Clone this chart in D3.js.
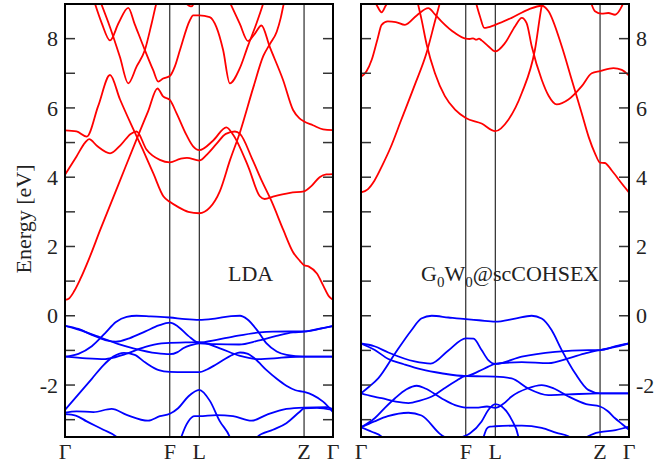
<!DOCTYPE html>
<html lang="en">
<head>
  <meta charset="UTF-8">
  <title>Band structure: LDA vs G0W0@scCOHSEX</title>
  <script src="https://d3js.org/d3.v7.min.js"></script>
  <style>
    body { margin: 0; background: #fff; }
    text { font-family: "Liberation Serif", "Times New Roman", serif; fill: #222; }
    .frame { fill: none; stroke: #000; stroke-width: 2px; }
    .kline { stroke: #000; stroke-width: 1px; }
    .tick { stroke: #333; stroke-width: 1.5px; }
    .band { fill: none; stroke-width: 1.8px; stroke-linejoin: round; }
  </style>
</head>
<body>
  <svg id="viz" width="668" height="463"></svg>

  <script>
    // high-symmetry path (normalised path length)
    const kLabels = ["Γ", "F", "L", "Z", "Γ"];
    const kTicks = [0, 0.391, 0.501, 0.892, 1];
    const majorTicks = [-2, 0, 2, 4, 6, 8];
    const minorTicks = [-3, -1, 1, 3, 5, 7];

    // each band: [k, E (eV)]
    const ldaConduction = [
      [[0,0.46],[0.015,0.5],[0.035,0.72],[0.056,1.04],[0.09,1.65],[0.131,2.47],[0.2,3.8],[0.27,5.15],[0.31,5.9],[0.345,6.56],[0.366,6.33],[0.391,6.23],[0.416,5.85],[0.453,5.22],[0.478,4.89],[0.501,4.78],[0.553,5.06],[0.602,5.44],[0.628,5.22],[0.684,4.3],[0.727,3.45],[0.745,3.37],[0.776,3.44],[0.84,3.55],[0.892,3.59],[0.92,3.75],[0.95,4.0],[0.975,4.08],[1,4.09]],
      [[0,4.07],[0.043,4.6],[0.075,5.0],[0.09,5.1],[0.12,4.9],[0.168,4.69],[0.21,4.95],[0.245,5.25],[0.267,5.32],[0.304,4.8],[0.354,4.5],[0.391,4.43],[0.43,4.53],[0.455,4.56],[0.501,4.48],[0.534,4.69],[0.565,4.96],[0.6,5.25],[0.634,5.32],[0.653,5.25],[0.7,4.5],[0.734,3.9],[0.771,3.3],[0.815,2.47],[0.85,1.85],[0.877,1.58],[0.892,1.46],[0.91,1.42],[0.94,1.22],[0.965,0.85],[0.985,0.56],[1,0.46]],
      [[0,5.35],[0.043,5.32],[0.081,5.17],[0.124,6.06],[0.168,6.95],[0.205,6.25],[0.248,5.5],[0.29,4.8],[0.33,4.1],[0.367,3.45],[0.391,3.29],[0.42,3.15],[0.46,3.0],[0.501,2.96],[0.54,3.12],[0.578,3.6],[0.616,4.5],[0.653,5.3],[0.703,6.6],[0.74,7.5],[0.765,7.85],[0.79,8.2],[0.805,8.6],[0.816,9.0],[0.825,9.3]],
      [[0.106,9.15],[0.137,8.45],[0.168,7.95],[0.2,8.45],[0.236,8.89],[0.26,8.42],[0.298,7.67],[0.329,7.09],[0.348,6.76],[0.366,6.85],[0.391,6.92],[0.41,7.2],[0.429,7.67],[0.466,8.53],[0.478,8.67],[0.501,8.67],[0.54,8.62],[0.565,8.33],[0.59,7.67],[0.615,6.71],[0.652,7.14],[0.683,7.8],[0.714,8.43],[0.739,9.0],[0.745,9.15]],
      [[0.128,9.15],[0.168,8.33],[0.205,7.47],[0.236,6.71],[0.267,7.19],[0.298,7.67],[0.323,8.43],[0.342,9.05],[0.348,9.2]],
      [[0.609,9.15],[0.652,8.43],[0.683,7.93],[0.708,8.14],[0.733,8.38],[0.764,7.76],[0.814,6.8],[0.851,5.94],[0.875,5.7],[0.892,5.61],[0.925,5.5],[0.963,5.38],[1,5.36]],
      [[0.445,9.15],[0.457,8.98],[0.47,8.93],[0.48,9.0],[0.487,9.15]]
    ];

    const ldaValence = [
      [[0,-1.18],[0.05,-1.1],[0.1,-0.88],[0.15,-0.5],[0.19,-0.18],[0.23,-0.03],[0.267,0.0],[0.32,-0.02],[0.391,-0.05],[0.45,-0.1],[0.501,-0.12],[0.56,-0.08],[0.62,-0.01],[0.653,0.0],[0.68,-0.1],[0.72,-0.45],[0.752,-0.8],[0.79,-1.03],[0.827,-1.13],[0.892,-1.18],[1,-1.18]],
      [[0,-0.29],[0.05,-0.38],[0.1,-0.55],[0.15,-0.7],[0.19,-0.75],[0.24,-0.65],[0.3,-0.45],[0.35,-0.28],[0.391,-0.2],[0.42,-0.3],[0.46,-0.58],[0.501,-0.78],[0.528,-0.75],[0.627,-0.6],[0.727,-0.48],[0.776,-0.46],[0.892,-0.45],[0.95,-0.38],[1,-0.29]],
      [[0,-0.29],[0.05,-0.4],[0.131,-0.62],[0.2,-0.82],[0.255,-0.94],[0.342,-1.08],[0.391,-1.11],[0.42,-1.05],[0.441,-0.94],[0.47,-0.85],[0.501,-0.8],[0.56,-0.82],[0.65,-0.83],[0.72,-0.72],[0.789,-0.58],[0.851,-0.48],[0.892,-0.46],[0.95,-0.37],[1,-0.3]],
      [[0,-1.18],[0.08,-1.23],[0.15,-1.25],[0.22,-1.12],[0.3,-0.9],[0.36,-0.8],[0.391,-0.78],[0.45,-0.77],[0.501,-0.76],[0.578,-0.94],[0.65,-1.15],[0.72,-1.25],[0.78,-1.23],[0.84,-1.19],[0.892,-1.18],[1,-1.18]],
      [[0,-2.72],[0.05,-2.27],[0.1,-1.82],[0.143,-1.43],[0.18,-1.18],[0.22,-1.07],[0.26,-1.13],[0.3,-1.35],[0.35,-1.57],[0.391,-1.62],[0.45,-1.63],[0.501,-1.63],[0.53,-1.55],[0.565,-1.4],[0.627,-1.12],[0.653,-1.06],[0.68,-1.09],[0.71,-1.25],[0.752,-1.57],[0.79,-1.82],[0.826,-2.02],[0.86,-2.15],[0.892,-2.2],[0.925,-2.29],[0.963,-2.48],[1,-2.78]],
      [[0,-2.8],[0.043,-2.76],[0.106,-2.78],[0.174,-2.69],[0.23,-2.86],[0.31,-3.03],[0.354,-2.9],[0.391,-2.83],[0.422,-2.67],[0.46,-2.33],[0.501,-2.14],[0.54,-2.45],[0.578,-3.05],[0.615,-3.5],[0.62,-3.6]],
      [[0,-2.84],[0.04,-2.88],[0.081,-3.05],[0.143,-3.29],[0.193,-3.5],[0.2,-3.55]],
      [[0.43,-3.6],[0.435,-3.48],[0.46,-3.05],[0.484,-2.9],[0.501,-2.9],[0.565,-2.87],[0.627,-2.9],[0.696,-3.03],[0.752,-2.86],[0.826,-2.69],[0.892,-2.65],[0.975,-2.64],[1,-2.7]],
      [[0.715,-3.6],[0.72,-3.48],[0.776,-3.29],[0.826,-3.1],[0.876,-2.77],[0.892,-2.67],[0.94,-2.66],[1,-2.72]]
    ];

    const gwConduction = [
      [[0,3.56],[0.025,3.65],[0.05,3.9],[0.08,4.35],[0.11,4.85],[0.15,5.65],[0.2,6.65],[0.245,7.6],[0.276,8.5],[0.295,9.05],[0.3,9.2]],
      [[0,6.9],[0.02,7.05],[0.04,7.39],[0.062,8.0],[0.077,8.4],[0.1,8.5],[0.13,8.48],[0.164,8.4],[0.208,8.67],[0.251,8.88],[0.276,8.7],[0.3,8.5],[0.351,8.16],[0.391,8.0],[0.405,7.99],[0.418,8.01],[0.43,7.97],[0.44,8.0],[0.45,7.95],[0.475,7.78],[0.501,7.63],[0.537,7.87],[0.575,8.36],[0.6,8.6],[0.618,8.45],[0.637,7.78],[0.674,6.82],[0.7,6.35],[0.73,6.1],[0.774,6.24],[0.823,6.62],[0.861,7.0],[0.892,7.06],[0.942,7.15],[0.973,7.1],[1,6.93]],
      [[0.208,9.15],[0.226,8.55],[0.245,7.83],[0.276,7.0],[0.313,6.34],[0.351,5.95],[0.391,5.71],[0.45,5.55],[0.501,5.33],[0.55,5.66],[0.6,6.43],[0.649,7.68],[0.674,8.93],[0.68,9.15]],
      [[0.425,9.15],[0.444,8.64],[0.46,8.31],[0.501,8.4],[0.562,8.6],[0.624,8.84],[0.674,8.95],[0.699,8.8],[0.749,7.78],[0.786,6.82],[0.823,5.86],[0.85,5.15],[0.873,4.69],[0.892,4.42],[0.91,4.41],[0.935,4.2],[0.973,3.82],[1,3.56]],
      [[0.854,9.15],[0.873,8.79],[0.898,8.72],[0.923,8.74],[0.948,8.69],[0.973,8.93],[0.985,9.15]],
      [[0.046,9.15],[0.06,8.95],[0.077,8.76],[0.092,8.95],[0.108,9.15]]
    ];

    const gwValence = [
      [[0,-2.24],[0.03,-2.05],[0.065,-1.8],[0.127,-1.09],[0.189,-0.41],[0.225,-0.08],[0.264,0.0],[0.326,-0.05],[0.391,-0.1],[0.44,-0.13],[0.501,-0.17],[0.575,-0.08],[0.637,0.0],[0.674,-0.08],[0.711,-0.41],[0.749,-0.99],[0.799,-1.66],[0.848,-2.14],[0.892,-2.24],[0.95,-2.24],[1,-2.24]],
      [[0,-0.8],[0.05,-0.88],[0.102,-1.06],[0.2,-1.32],[0.26,-1.38],[0.326,-1.0],[0.391,-0.65],[0.42,-0.66],[0.45,-0.99],[0.475,-1.28],[0.501,-1.39],[0.6,-1.18],[0.724,-1.04],[0.848,-0.99],[0.892,-0.99],[0.95,-0.88],[1,-0.8]],
      [[0,-0.8],[0.05,-0.98],[0.102,-1.25],[0.16,-1.4],[0.226,-1.55],[0.3,-1.66],[0.391,-1.74],[0.44,-1.6],[0.475,-1.47],[0.501,-1.39],[0.6,-1.34],[0.7,-1.37],[0.774,-1.23],[0.84,-1.08],[0.892,-0.99],[0.95,-0.9],[1,-0.8]],
      [[0,-2.24],[0.04,-2.32],[0.077,-2.38],[0.13,-2.48],[0.177,-2.52],[0.22,-2.45],[0.264,-2.33],[0.31,-2.1],[0.351,-1.9],[0.391,-1.74],[0.45,-1.75],[0.501,-1.76],[0.562,-1.81],[0.624,-2.1],[0.699,-2.29],[0.774,-2.27],[0.892,-2.24],[1,-2.24]],
      [[0,-3.22],[0.052,-2.95],[0.09,-2.65],[0.127,-2.38],[0.17,-2.12],[0.208,-2.02],[0.24,-2.1],[0.3,-2.38],[0.351,-2.58],[0.391,-2.65],[0.43,-2.65],[0.47,-2.62],[0.501,-2.66],[0.53,-2.55],[0.562,-2.33],[0.62,-2.1],[0.674,-2.0],[0.72,-2.1],[0.774,-2.33],[0.84,-2.55],[0.892,-2.62],[0.92,-2.75],[0.948,-2.96],[0.975,-3.13],[1,-3.29]],
      [[0,-3.22],[0.05,-3.05],[0.1,-2.9],[0.177,-2.8],[0.226,-2.88],[0.3,-3.44],[0.33,-3.55],[0.37,-3.52],[0.391,-3.46],[0.407,-3.39],[0.45,-3.05],[0.475,-2.72],[0.501,-2.55],[0.525,-2.62],[0.562,-3.0],[0.587,-3.48],[0.59,-3.6]],
      [[0,-3.22],[0.04,-3.35],[0.077,-3.49],[0.09,-3.6]],
      [[0.452,-3.6],[0.458,-3.48],[0.469,-3.26],[0.481,-3.2],[0.501,-3.19],[0.6,-3.17],[0.674,-3.24],[0.73,-3.38],[0.774,-3.48],[0.79,-3.55]],
      [[0.83,-3.6],[0.848,-3.48],[0.87,-3.4],[0.892,-3.36],[0.95,-3.3],[1,-3.2]]
    ];

    const svg = d3.select("#viz");
    const plotTop = 4, plotBottom = 437, tickLen = 10;

    const panels = [
      { id: "lda", x0: 65, x1: 333, labelSide: "left", conduction: ldaConduction, valence: ldaValence },
      { id: "gw", x0: 361, x1: 629, labelSide: "right", conduction: gwConduction, valence: gwValence }
    ];

    const y = d3.scaleLinear().domain([-3.5, 9]).range([plotBottom, plotTop]);

    panels.forEach(p => {
      const x = d3.scaleLinear().domain([0, 1]).range([p.x0, p.x1]);
      const g = svg.append("g");

      svg.append("clipPath").attr("id", "clip-" + p.id)
        .append("rect")
        .attr("x", p.x0).attr("y", plotTop)
        .attr("width", p.x1 - p.x0).attr("height", plotBottom - plotTop);

      // vertical lines at F, L, Z
      g.selectAll(".kline")
        .data(kTicks.slice(1, -1))
        .enter()
        .append("line")
        .attr("class", "kline")
        .attr("x1", d => x(d)).attr("x2", d => x(d))
        .attr("y1", plotTop).attr("y2", plotBottom);

      const line = d3.line()
        .x(d => x(d[0]))
        .y(d => y(d[1]))
        .curve(d3.curveMonotoneX);

      const bands = g.append("g").attr("clip-path", `url(#clip-${p.id})`);
      bands.selectAll(".cb")
        .data(p.conduction)
        .enter()
        .append("path")
        .attr("class", "band")
        .attr("stroke", "#ff0000")
        .attr("d", line);
      bands.selectAll(".vb")
        .data(p.valence)
        .enter()
        .append("path")
        .attr("class", "band")
        .attr("stroke", "#0000ff")
        .attr("d", line);

      // ticks on both sides, inward
      const allTicks = majorTicks.concat(minorTicks);
      [p.x0, p.x1].forEach((edge, i) => {
        g.selectAll(".t" + i)
          .data(allTicks)
          .enter()
          .append("line")
          .attr("class", "tick")
          .attr("x1", edge)
          .attr("x2", i === 0 ? edge + tickLen : edge - tickLen)
          .attr("y1", d => y(d)).attr("y2", d => y(d));
      });

      g.selectAll(".ylab")
        .data(majorTicks)
        .enter()
        .append("text")
        .attr("x", p.labelSide === "left" ? p.x0 - 7 : p.x1 + 7)
        .attr("y", d => y(d))
        .attr("dy", "0.35em")
        .attr("text-anchor", p.labelSide === "left" ? "end" : "start")
        .style("font-size", "22px")
        .text(d => d);

      g.selectAll(".klab")
        .data(kTicks)
        .enter()
        .append("text")
        .attr("x", d => x(d))
        .attr("y", 459)
        .attr("text-anchor", "middle")
        .style("font-size", "22px")
        .text((d, i) => kLabels[i]);

      g.append("rect")
        .attr("class", "frame")
        .attr("x", p.x0).attr("y", plotTop)
        .attr("width", p.x1 - p.x0).attr("height", plotBottom - plotTop);
    });

    // panel titles
    svg.append("text")
      .attr("x", 228).attr("y", 281)
      .style("font-size", "22px")
      .text("LDA");

    const gw = svg.append("text")
      .attr("x", 421).attr("y", 281)
      .style("font-size", "22px");
    gw.append("tspan").text("G");
    gw.append("tspan").attr("dy", 6).style("font-size", "15px").text("0");
    gw.append("tspan").attr("dy", -6).text("W");
    gw.append("tspan").attr("dy", 6).style("font-size", "15px").text("0");
    gw.append("tspan").attr("dy", -6).text("@scCOHSEX");

    svg.append("text")
      .attr("transform", "translate(31,219) rotate(-90)")
      .attr("text-anchor", "middle")
      .style("font-size", "22px")
      .text("Energy [eV]");
  </script>
</body>
</html>
